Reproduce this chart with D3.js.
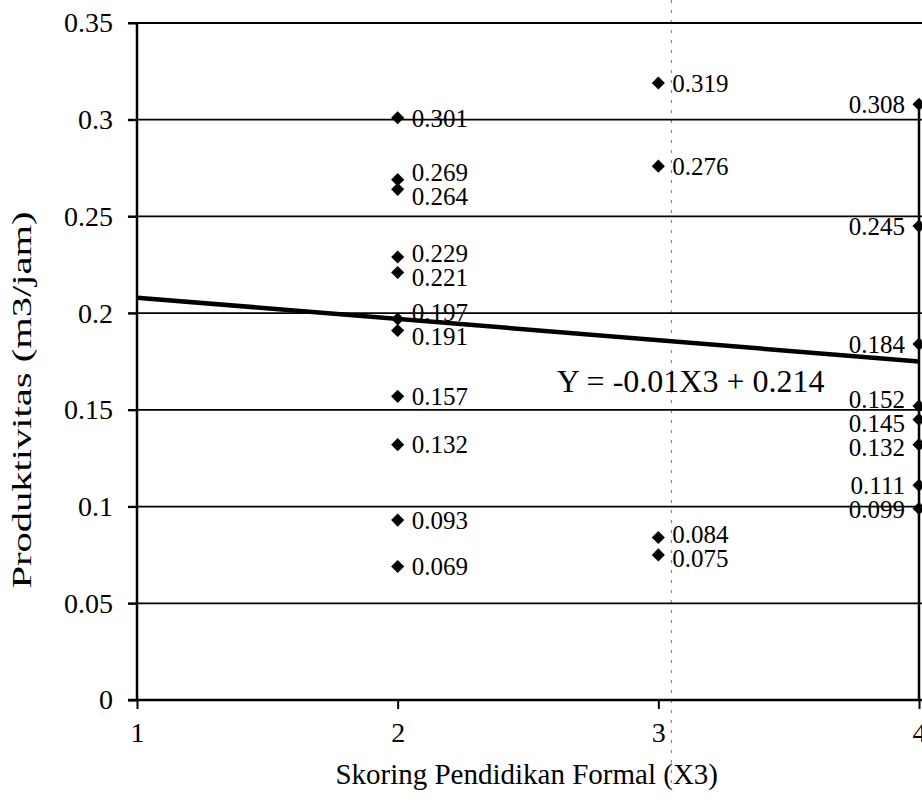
<!DOCTYPE html>
<html>
<head>
<meta charset="utf-8">
<script src="https://cdn.jsdelivr.net/npm/d3@7"></script>
<style>
  body { margin: 0; background: #fff; }
  text { font-family: "Liberation Serif", "Times New Roman", Times, serif; fill: #000; }
</style>
</head>
<body>
<div id="chart"></div>
<script>
// data
var scoreX2 = [0.301, 0.269, 0.264, 0.229, 0.221, 0.197, 0.191, 0.157, 0.132, 0.093, 0.069];
var scoreX3 = [0.319, 0.276, 0.084, 0.075];
var scoreX4 = [0.308, 0.245, 0.184, 0.152, 0.145, 0.132, 0.111, 0.099];
var xTicks = [1, 2, 3, 4];
var yTicks = [0, 0.05, 0.1, 0.15, 0.2, 0.25, 0.3, 0.35];
var trendEnds = [[1, 0.208], [4, 0.175]];
var equation = "Y = -0.01X3 + 0.214";

var svgWidth = 922;
var svgHeight = 804;

var margin = { top: 23, right: 3, bottom: 104, left: 137 };
var width = svgWidth - margin.left - margin.right;
var height = svgHeight - margin.top - margin.bottom;

var svg = d3.select("#chart")
  .append("svg")
  .attr("width", svgWidth)
  .attr("height", svgHeight);

var chartGroup = svg.append("g")
  .attr("transform", `translate(${margin.left}, ${margin.top})`);

var points = [];
scoreX2.forEach(v => points.push({ x: 2, y: v }));
scoreX3.forEach(v => points.push({ x: 3, y: v }));
scoreX4.forEach(v => points.push({ x: 4, y: v }));

var xScale = d3.scaleLinear().domain([1, 4]).range([0, width]);
var yScale = d3.scaleLinear().domain([0, 0.35]).range([height, 0]);

// faint dashed scan line
chartGroup.append("line")
  .attr("x1", xScale(3.05)).attr("x2", xScale(3.05))
  .attr("y1", -margin.top).attr("y2", height + 90)
  .attr("stroke", "#777").attr("stroke-width", 1)
  .attr("stroke-dasharray", "3,7");

// gridlines
chartGroup.append("g")
  .selectAll("line")
  .data(yTicks.filter(d => d > 0))
  .enter()
  .append("line")
  .attr("x1", -9)
  .attr("x2", width + margin.right)
  .attr("y1", d => yScale(d))
  .attr("y2", d => yScale(d))
  .attr("stroke", "#000")
  .attr("stroke-width", 1.8);

// axes
var leftAxis = d3.axisLeft(yScale).tickValues(yTicks).tickSize(9).tickPadding(15)
  .tickFormat(d => d === 0 ? "0" : String(+d.toFixed(2)));
var bottomAxis = d3.axisBottom(xScale).tickValues(xTicks).tickSize(9).tickPadding(13)
  .tickFormat(d3.format("d"));

var yAxisG = chartGroup.append("g").call(leftAxis);
var xAxisG = chartGroup.append("g").attr("transform", `translate(0, ${height})`).call(bottomAxis);

[yAxisG, xAxisG].forEach(function(g) {
  g.attr("font-family", null).attr("font-size", null);
  g.select(".domain").remove();
  g.selectAll("line").attr("stroke", "#000").attr("stroke-width", 2);
  g.selectAll("text")
    .style("font-size", "28px")
    .attr("fill", "#000");
});

// axis frame lines
chartGroup.append("line")
  .attr("x1", 0).attr("x2", 0).attr("y1", 0).attr("y2", height)
  .attr("stroke", "#000").attr("stroke-width", 2.5);
chartGroup.append("line")
  .attr("x1", -9).attr("x2", width + margin.right).attr("y1", height).attr("y2", height)
  .attr("stroke", "#000").attr("stroke-width", 2.5);
chartGroup.append("line")
  .attr("x1", width).attr("x2", width).attr("y1", yScale(0.31)).attr("y2", height)
  .attr("stroke", "#000").attr("stroke-width", 2.5);

// trend line
chartGroup.append("line")
  .attr("x1", xScale(trendEnds[0][0])).attr("y1", yScale(trendEnds[0][1]))
  .attr("x2", xScale(trendEnds[1][0])).attr("y2", yScale(trendEnds[1][1]))
  .attr("stroke", "#000").attr("stroke-width", 4.5);

chartGroup.append("text")
  .attr("x", xScale(2.61))
  .attr("y", yScale(0.165))
  .attr("dy", "0.35em")
  .style("font-size", "32px")
  .text(equation);

// markers
chartGroup.append("g")
  .selectAll("path")
  .data(points)
  .enter()
  .append("path")
  .attr("transform", d => `translate(${xScale(d.x)}, ${yScale(d.y)})`)
  .attr("d", d3.symbol().type(d3.symbolDiamond2).size(110))
  .attr("fill", "#000");

// labels, nudged apart so that close values do not overlap
function spread(items, gap) {
  items.sort((a, b) => a.ly - b.ly);
  for (var k = 0; k < 60; k++) {
    for (var i = 1; i < items.length; i++) {
      var d = items[i].ly - items[i - 1].ly;
      if (d < gap) {
        var s = (gap - d) / 2;
        items[i - 1].ly -= s;
        items[i].ly += s;
      }
    }
  }
}

var labelItems = points.map(d => ({ x: d.x, y: d.y, ly: yScale(d.y) }));
xTicks.forEach(function(xv) {
  spread(labelItems.filter(d => d.x === xv), 24);
});

chartGroup.append("g")
  .selectAll("text")
  .data(labelItems)
  .enter()
  .append("text")
  .attr("x", d => d.x === 4 ? xScale(d.x) - 14 : xScale(d.x) + 14)
  .attr("y", d => d.ly)
  .attr("dy", "0.35em")
  .attr("text-anchor", d => d.x === 4 ? "end" : "start")
  .style("font-size", "25px")
  .text(d => d3.format(".3f")(d.y));

// axis titles
chartGroup.append("text")
  .attr("transform", "rotate(-90)")
  .attr("x", -(400 - margin.top))
  .attr("y", -margin.left + 31)
  .attr("text-anchor", "middle")
  .attr("textLength", 377)
  .attr("lengthAdjust", "spacingAndGlyphs")
  .style("font-size", "28px")
  .text("Produktivitas (m3/jam)");

chartGroup.append("text")
  .attr("x", xScale(2.495))
  .attr("y", height + 84)
  .attr("text-anchor", "middle")
  .style("font-size", "29px")
  .text("Skoring Pendidikan Formal (X3)");
</script>
</body>
</html>
